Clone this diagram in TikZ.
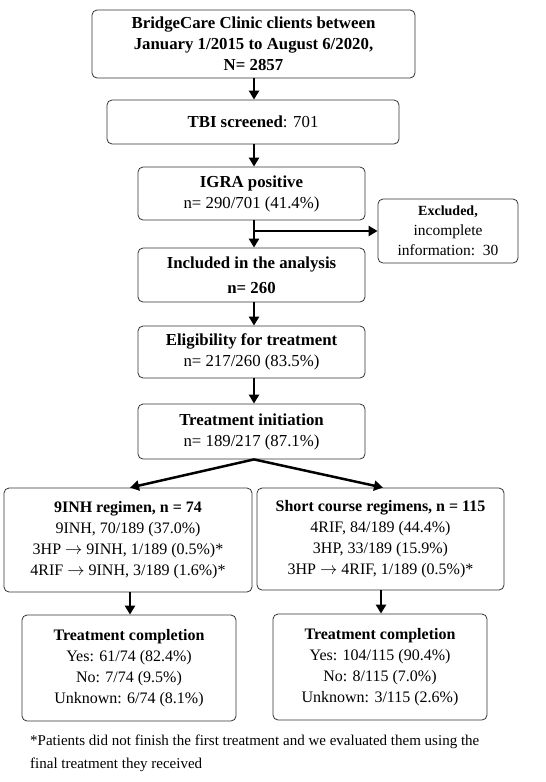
\documentclass[tikz,border=0pt]{standalone}
\usepackage{fontspec}
\setmainfont{Liberation Serif}
\usetikzlibrary{arrows.meta}
\begin{document}
\begin{tikzpicture}[x=1pt,y=-1pt,
  box/.style={draw=black!80,line width=0.8pt,rounded corners=5pt,align=center,inner sep=0pt,font=\fontsize{16}{21}\selectfont},
  mid/.style={box,font=\fontsize{16.8}{21}\selectfont},
  arr/.style={line width=2.5pt,-{Triangle[length=9pt,width=10pt]}},
  ]
\useasboundingbox (0,0) rectangle (546,782);
\node[mid,minimum width=323pt,minimum height=68pt] (b1) at (253.5,44) {\textbf{BridgeCare Clinic clients between}\\\textbf{January 1/2015 to August 6/2020,}\\\textbf{N= 2857}};
\node[mid,minimum width=292pt,minimum height=44pt] (b2) at (253,122) {\textbf{TBI screened}: 701};
\node[mid,minimum width=227pt,minimum height=53pt] (b3) at (251.5,193.5) {\textbf{IGRA positive}\\n= 290/701 (41.4\%)};
\node[box,minimum width=140pt,minimum height=64pt,font=\fontsize{14}{20}\selectfont] (ex) at (448,231) {\textbf{Excluded,}\\{\fontsize{15.5}{20}\selectfont incomplete}\\{\fontsize{15.5}{20}\selectfont information:\ \ 30}};
\node[mid,minimum width=227pt,minimum height=54pt,font=\fontsize{16.8}{25}\selectfont] (inc) at (251.5,275) {\textbf{Included in the analysis}\\\textbf{n= 260}};
\node[mid,minimum width=227pt,minimum height=52pt] (el) at (251.5,352) {\textbf{Eligibility for treatment}\\n= 217/260 (83.5\%)};
\node[mid,minimum width=227pt,minimum height=55pt] (in) at (251.5,431.5) {\textbf{Treatment initiation}\\n= 189/217 (87.1\%)};
\node[box,minimum width=248pt,minimum height=104pt] (lf) at (128,540) {\textbf{9INH regimen, n = 74}\\9INH, 70/189 (37.0\%)\\3HP $\rightarrow$ 9INH, 1/189 (0.5\%)*\\4RIF $\rightarrow$ 9INH, 3/189 (1.6\%)*};
\node[box,minimum width=247pt,minimum height=102pt] (rt) at (380.5,539) {\textbf{Short course regimens, n = 115}\\4RIF, 84/189 (44.4\%)\\3HP, 33/189 (15.9\%)\\3HP $\rightarrow$ 4RIF, 1/189 (0.5\%)*};
\node[box,minimum width=214pt,minimum height=106pt] (cl) at (129,668) {\textbf{Treatment completion}\\Yes: 61/74 (82.4\%)\\No: 7/74 (9.5\%)\\Unknown: 6/74 (8.1\%)};
\node[box,minimum width=214pt,minimum height=106pt] (cr) at (380,667) {\textbf{Treatment completion}\\Yes: 104/115 (90.4\%)\\No: 8/115 (7.0\%)\\Unknown: 3/115 (2.6\%)};
\node[anchor=north west,align=left,inner sep=0pt,font=\fontsize{15}{23}\selectfont] (fn) at (30,735) {*Patients did not finish the first treatment and we evaluated them using the\\final treatment they received};
\draw[arr] (b1.south -| 254,0) -- (b2.north -| 254,0);
\draw[arr] (b2.south -| 254,0) -- (b3.north -| 254,0);
\draw[arr] (b3.south -| 254,0) -- (inc.north -| 254,0);
\coordinate (br) at (b3.south -| 254,0);
\draw[arr] (br |- ex.west) -- (ex.west);
\draw[arr] (inc.south -| 254,0) -- (el.north -| 254,0);
\draw[arr] (el.south -| 254,0) -- (in.north -| 254,0);
\draw[arr] (in.south -| 254,0) -- (lf.north -| 130,0);
\draw[arr] (in.south -| 254,0) -- (rt.north -| 383,0);
\draw[arr] (lf.south -| 130,0) -- (cl.north -| 130,0);
\draw[arr] (rt.south -| 381,0) -- (cr.north -| 381,0);
\end{tikzpicture}
\end{document}
